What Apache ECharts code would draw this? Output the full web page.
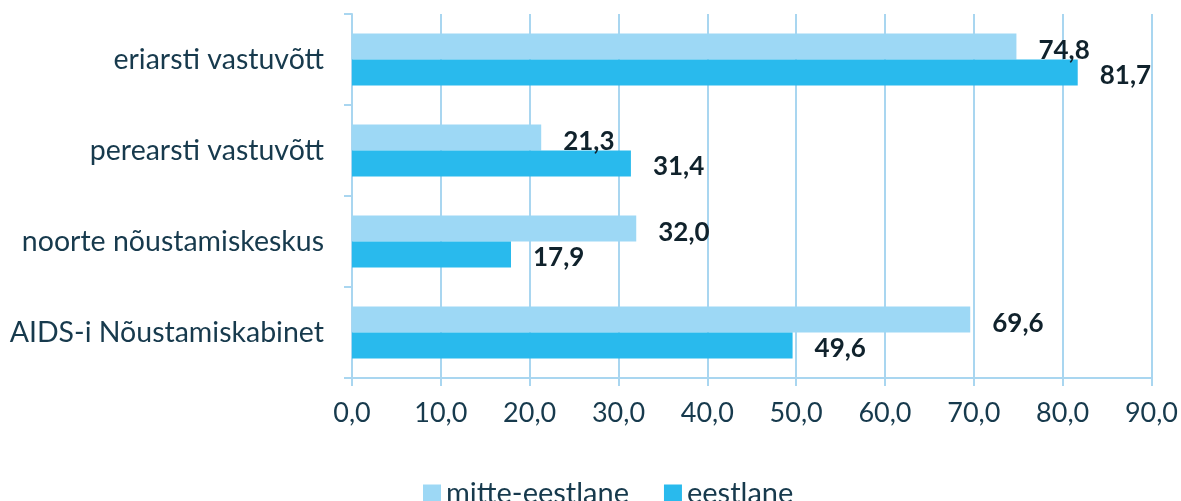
<!DOCTYPE html>
<html>
<head>
<meta charset="utf-8">
<script src="https://cdn.jsdelivr.net/npm/echarts@6/dist/echarts.min.js"></script>
<style>
  html, body { margin: 0; padding: 0; background: #fff; }
  #chart { width: 1181px; height: 501px; }
</style>
</head>
<body>
<div id="chart"></div>
<script>
// andmed
const kategooriad = ["eriarsti vastuvõtt", "perearsti vastuvõtt", "noorte nõustamiskeskus", "AIDS-i Nõustamiskabinet"];
const mitteEestlane = [74.8, 21.3, 32.0, 69.6];
const eestlane = [81.7, 31.4, 17.9, 49.6];
const xTicks = [0, 10, 20, 30, 40, 50, 60, 70, 80, 90];

const fontFam = "Lato, 'Open Sans', sans-serif";
const gridColor = "#a9d6f0";
const tekstiVarv = "#173a4d";

function komaga(v) {
  return Number(v).toFixed(1).replace(".", ",");
}

var myChart = echarts.init(document.getElementById("chart"));

var option = {
  animation: false,
  grid: {
    left: 352,
    right: 29,
    top: 14,
    bottom: 123,
    containLabel: false,
  },
  legend: {
    top: 474,
    left: 418,
    itemGap: 35,
    itemWidth: 18,
    itemHeight: 18,
    icon: "rect",
    textStyle: {
      fontFamily: fontFam,
      fontSize: 29,
      color: tekstiVarv,
    },
    data: ["mitte-eestlane", "eestlane"],
  },
  xAxis: {
    type: "value",
    min: xTicks[0],
    max: xTicks[xTicks.length - 1],
    interval: 10,
    axisLine: { show: true, lineStyle: { color: gridColor, width: 2 } },
    axisTick: { show: true, length: 8, lineStyle: { color: gridColor, width: 2 } },
    splitLine: { show: true, lineStyle: { color: gridColor, width: 2 } },
    axisLabel: {
      margin: 22,
      fontFamily: fontFam,
      fontSize: 27,
      color: tekstiVarv,
      formatter: (v) => komaga(v),
    },
  },
  yAxis: {
    type: "category",
    inverse: true,
    data: kategooriad,
    axisLine: { show: true, lineStyle: { color: gridColor, width: 2 } },
    axisTick: { show: true, length: 8, lineStyle: { color: gridColor, width: 2 } },
    axisLabel: {
      margin: 28,
      fontFamily: fontFam,
      fontSize: 28.5,
      color: tekstiVarv,
    },
  },
  series: [
    {
      name: "mitte-eestlane",
      type: "bar",
      data: mitteEestlane,
      barWidth: 26,
      barGap: "0%",
      itemStyle: { color: "#9dd8f5" },
      label: {
        show: true,
        position: "right",
        distance: 22,
        offset: [0, 4],
        fontFamily: fontFam,
        fontSize: 26,
        fontWeight: "bold",
        color: "#10222c",
        formatter: (p) => komaga(p.value),
      },
    },
    {
      name: "eestlane",
      type: "bar",
      data: eestlane,
      barWidth: 26,
      barGap: "0%",
      itemStyle: { color: "#29baed" },
      label: {
        show: true,
        position: "right",
        distance: 22,
        offset: [0, 3],
        fontFamily: fontFam,
        fontSize: 26,
        fontWeight: "bold",
        color: "#10222c",
        formatter: (p) => komaga(p.value),
      },
    },
  ],
};

myChart.setOption(option);
</script>
</body>
</html>
